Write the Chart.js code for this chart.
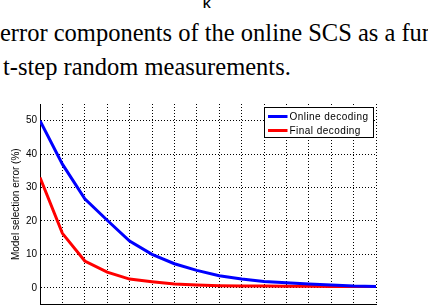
<!DOCTYPE html>
<html lang="en">
<head>
  <meta charset="UTF-8">
  <title>Model selection error</title>
  <script src="https://cdn.jsdelivr.net/npm/chart.js"></script>
  <style>
    body {
      margin: 0;
      width: 428px;
      height: 306px;
      overflow: hidden;
      background: #fff;
      position: relative;
    }
    .txt {
      position: absolute;
      white-space: nowrap;
      font-family: "Liberation Serif", "Times New Roman", serif;
      font-size: 24.5px;
      line-height: 24px;
      color: #000;
    }
    #k {
      position: absolute;
      left: 203px;
      top: -2px;
      font: bold 11px "Liberation Sans", Arial, sans-serif;
    }
    #chart {
      position: absolute;
      left: 0;
      top: 95px;
    }
  </style>
</head>
<body>
  <div id="k">K</div>
  <div class="txt" style="left:0;top:21px">error components of the online SCS as a function</div>
  <div class="txt" style="left:3px;top:55px">t-step random measurements.</div>
  <canvas id="chart" width="428" height="230"></canvas>

  <script>
    const xValues = [0, 1, 2, 3, 4, 5, 6, 7, 8, 9, 10, 11, 12, 13, 14, 15];
    const onlineError = [50, 37, 26.6, 20.2, 14, 10, 7.2, 5.2, 3.6, 2.6, 1.9, 1.5, 1.1, 0.8, 0.5, 0.4];
    const finalError = [33, 16.3, 8, 4.7, 2.6, 1.8, 1.1, 0.8, 0.6, 0.5, 0.5, 0.45, 0.45, 0.4, 0.4, 0.4];
    const yTicks = [0, 10, 20, 30, 40, 50];
    const seriesNames = ['Online decoding', 'Final decoding'];

    const toPoints = ys => xValues.map((x, i) => ({ x: x, y: ys[i] }));

    // legend box drawn inside the plot, top right
    const boxLegend = {
      id: 'boxLegend',
      afterDatasetsDraw(chart) {
        const ctx = chart.ctx;
        const area = chart.chartArea;
        const right = area.right - 2.5;
        const left = right - 109;
        const top = area.top + 3.5;
        ctx.save();
        ctx.fillStyle = '#fff';
        ctx.fillRect(left, top, 109, 30);
        ctx.strokeStyle = '#000';
        ctx.lineWidth = 1;
        ctx.strokeRect(left, top, 109, 30);
        ctx.font = '10px "Liberation Sans", Arial, sans-serif';
        if ('letterSpacing' in ctx) ctx.letterSpacing = '0.45px';
        ctx.textBaseline = 'middle';
        chart.data.datasets.forEach((ds, i) => {
          const y = top + 9 + i * 14;
          ctx.strokeStyle = ds.borderColor;
          ctx.lineWidth = 3;
          ctx.beginPath();
          ctx.moveTo(left + 3.5, y);
          ctx.lineTo(left + 23, y);
          ctx.stroke();
          ctx.fillStyle = '#000';
          ctx.fillText(ds.label, left + 25, y + 0.5);
        });
        ctx.restore();
      }
    };

    new Chart(document.getElementById('chart'), {
      type: 'line',
      data: {
        datasets: [
          {
            label: seriesNames[0],
            data: toPoints(onlineError),
            borderColor: '#0000ff',
            borderWidth: 3,
            pointRadius: 0,
            tension: 0,
            fill: false
          },
          {
            label: seriesNames[1],
            data: toPoints(finalError),
            borderColor: '#ff0000',
            borderWidth: 3,
            pointRadius: 0,
            tension: 0,
            fill: false
          }
        ]
      },
      options: {
        responsive: false,
        animation: false,
        layout: {
          padding: { top: 7, right: 52, bottom: 20.5, left: 0 }
        },
        plugins: {
          legend: { display: false },
          tooltip: { enabled: false }
        },
        scales: {
          x: {
            type: 'linear',
            min: 0,
            max: 15,
            ticks: { stepSize: 1, display: false },
            grid: { color: '#000', lineWidth: 1, drawTicks: false },
            border: { display: true, color: '#000', width: 1, dash: [1, 2] },
            afterFit(scale) { scale.height = 0; }
          },
          y: {
            min: -5,
            max: 55,
            afterBuildTicks(scale) {
              scale.ticks = yTicks.map(v => ({ value: v }));
            },
            ticks: {
              color: '#000',
              padding: 3,
              font: { family: '"Liberation Sans", Arial, sans-serif', size: 10 }
            },
            grid: { color: '#000', lineWidth: 1, drawTicks: false },
            border: { display: true, color: '#000', width: 1, dash: [1, 2] },
            title: {
              display: true,
              text: 'Model selection error (%)',
              color: '#000',
              padding: { top: 10, bottom: 0 },
              font: { family: '"Liberation Sans", Arial, sans-serif', size: 10 }
            },
            afterFit(scale) { scale.width = 40; }
          }
        }
      },
      plugins: [boxLegend]
    });
  </script>
</body>
</html>
